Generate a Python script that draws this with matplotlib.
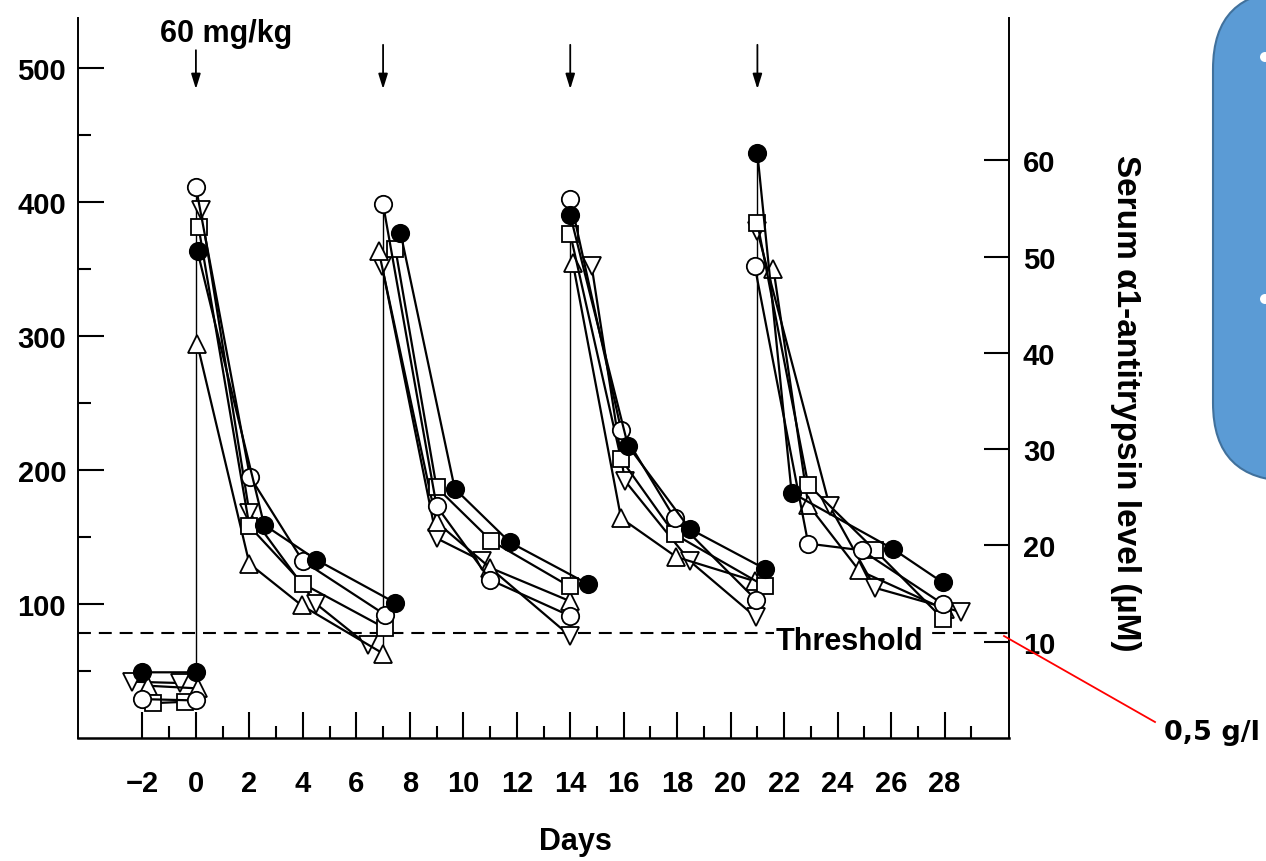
import numpy as np
import matplotlib
matplotlib.use("Agg")
import matplotlib.pyplot as plt
from matplotlib.patches import FancyBboxPatch, Circle
from matplotlib.lines import Line2D

nan = np.nan

# values (mg/dl on the left axis), NaN splits the weekly runs
fc_x = [-2, 0, nan, 0.06, 2.55, 4.5, 7.44, nan, 7.65, 9.68, 11.74, 14.65, nan, 14.0, 16.16, 18.47, 21.3, nan, 21.0, 22.28, 26.07, 27.93]
fc_y = [49, 49, nan, 363, 159, 133, 101, nan, 377, 186, 146, 115, nan, 390, 218, 156, 126, nan, 436, 183, 141, 116]

oc_x = [-2, 0, nan, 0, 2.02, 4.0, 7.07, nan, 7.0, 9.0, 11.0, 14.0, nan, 14.0, 15.9, 17.9, 20.95, nan, 20.9, 22.9, 24.9, 27.93]
oc_y = [29, 28, nan, 411, 195, 132, 92, nan, 398, 173, 118, 91, nan, 402, 230, 164, 103, nan, 352, 145, 140, 100]

sq_x = [-1.6, -0.4, nan, 0.1, 2.0, 4.0, 7.07, nan, 7.46, 9.0, 11.05, 13.98, nan, 14.0, 15.9, 17.9, 21.3, nan, 21.0, 22.9, 25.4, 27.93]
sq_y = [26, 27, nan, 381, 158, 115, 82, nan, 365, 187, 147, 113, nan, 376, 208, 152, 113, nan, 384, 189, 140, 89]

tu_x = [-1.8, 0.07, nan, 0.05, 2.0, 3.95, 7.0, nan, 6.84, 9.0, 11.0, 14.0, nan, 14.1, 15.9, 17.97, 20.9, nan, 21.6, 22.9, 24.8, 28.0]
tu_y = [39, 37, nan, 294, 130, 99, 63, nan, 363, 161, 127, 102, nan, 354, 164, 135, 117, nan, 350, 174, 125, 96]

td_x = [-2.4, -0.6, nan, 0.19, 2.0, 4.5, 6.44, nan, 6.96, 9.0, 10.7, 14.0, nan, 14.8, 16.04, 18.47, 20.95, nan, 21.0, 23.7, 25.4, 28.6]
td_y = [42, 41, nan, 394, 168, 100, 69, nan, 352, 149, 132, 76, nan, 352, 192, 132, 90, nan, 378, 173, 112, 94]

dose_days = [0, 7, 14, 21]
threshold = 78
mgdl_per_uM = 7.18

x_ticks = list(range(-2, 29, 2))
y_ticks = [100, 200, 300, 400, 500]
y2_ticks = [10, 20, 30, 40, 50, 60]

plt.rcParams['font.family'] = ['Liberation Sans', 'DejaVu Sans']
plt.rcParams['font.weight'] = 'bold'

W, H = 1266, 862
fig = plt.figure(figsize=(W / 100, H / 100), dpi=100)
fig.patch.set_facecolor('white')

ax = fig.add_axes([78 / W, (H - 739) / H, (1009 - 78) / W, (739 - 19) / H])
ax.set_xlim(-4.41, 30.41)
ax.set_ylim(0, 537)

# vertical line at each dose: from lowest pre-dose to highest post-dose value
series = [(fc_x, fc_y), (oc_x, oc_y), (sq_x, sq_y), (tu_x, tu_y), (td_x, td_y)]
for k, d in enumerate(dose_days):
    lows, highs = [], []
    for xs, ys in series:
        ys = np.array(ys)
        breaks = np.where(np.isnan(ys))[0]
        lows.append(ys[breaks[k] - 1])
        highs.append(ys[breaks[k] + 1])
    ax.plot([d, d], [min(lows), max(highs)], color='black', lw=1.0, zorder=2)

ax.axhline(threshold, color='black', lw=1.5, dashes=(6.2, 3.8), zorder=1)

mk = dict(color='black', lw=1.6, markeredgecolor='black', markeredgewidth=1.3, zorder=3)
ax.plot(td_x, td_y, marker='v', ms=13.5, markerfacecolor='white', **mk)
ax.plot(tu_x, tu_y, marker='^', ms=13.5, markerfacecolor='white', **mk)
ax.plot(sq_x, sq_y, marker='s', ms=11.5, markerfacecolor='white', **mk)
ax.plot(oc_x, oc_y, marker='o', ms=12.5, markerfacecolor='white', **mk)
ax.plot(fc_x, fc_y, marker='o', ms=12.5, markerfacecolor='black', **mk)

ax.text(24.46, 72.5, 'Threshold', fontsize=22, ha='center', va='center', zorder=2,
        bbox=dict(facecolor='white', edgecolor='none', pad=1.5))

for d in dose_days:
    ax.annotate('', xy=(d, 484), xytext=(d, 517 if d else 513),
                arrowprops=dict(arrowstyle='-|>,head_length=0.9,head_width=0.28',
                                color='black', lw=1.3, shrinkA=0, shrinkB=0))
ax.text(1.12, 526, '60 mg/kg', fontsize=22, ha='center', va='center')

ax.set_xticks(x_ticks)
ax.set_xticks(range(-1, 30, 2), minor=True)
ax.set_yticks(y_ticks)
ax.set_yticks([50, 150, 250, 350, 450], minor=True)
ax.tick_params(which='major', direction='in', length=19, width=1.5, labelsize=21)
ax.tick_params(which='minor', direction='in', length=9, width=1.5)
ax.tick_params(axis='x', pad=22)
ax.tick_params(axis='y', pad=8.5)
for s in ['top', 'right']:
    ax.spines[s].set_visible(False)
ax.spines['bottom'].set_linewidth(1.8)
ax.spines['left'].set_linewidth(1.4)

ax2 = ax.twinx()
ax2.set_ylim(0, 537 / mgdl_per_uM)
ax2.set_yticks(y2_ticks)
ax2.tick_params(direction='in', length=18, width=1.5, labelsize=21, pad=10)
for s in ['top', 'left', 'bottom']:
    ax2.spines[s].set_visible(False)
ax2.spines['right'].set_linewidth(1.4)

fig.text(575 / W, 1 - 842 / H, 'Days', fontsize=22, ha='center', va='center')
fig.text(1126 / W, 1 - 403 / H, 'Serum α1-antitrypsin level (µM)', fontsize=24,
         rotation=270, ha='center', va='center')

# slide overlay: red pointer, note and blue box
fig.add_artist(Line2D([1004 / W, 1155 / W], [1 - 637 / H, 1 - 723 / H], color='red', lw=1.3))
fig.text(1164 / W, 1 - 733 / H, '0,5 g/l', fontsize=19.5, family='DejaVu Sans', fontweight='bold',
         ha='left', va='center')

box = FancyBboxPatch((12.13, 3.80), 2.5, 4.90, boxstyle='round,pad=0,rounding_size=0.78',
                     transform=fig.dpi_scale_trans, facecolor='#5B9BD5', edgecolor='#41719C', lw=1.5)
fig.add_artist(box)
for yb in [0.58, 3.0]:
    fig.add_artist(Circle((12.65, H / 100 - yb), 0.05, transform=fig.dpi_scale_trans,
                          facecolor='white', edgecolor='none'))

fig.savefig('out.png', dpi=100)
